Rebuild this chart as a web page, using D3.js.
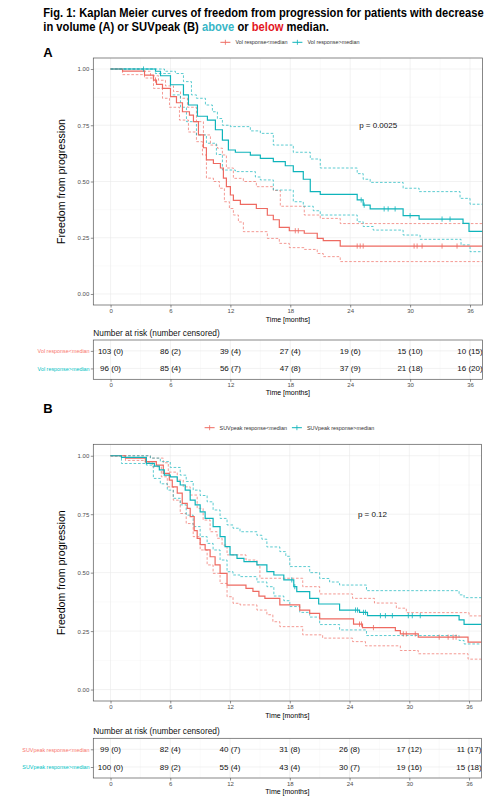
<!DOCTYPE html>
<html><head><meta charset="utf-8">
<script src="https://cdn.jsdelivr.net/npm/d3@7"></script>
<style>body{margin:0;background:#fff}svg{display:block;font-family:"Liberation Sans",Arial,sans-serif}</style>
</head><body><svg id="c" width="498" height="800"></svg>
<script>
// ---------- data ----------
const timeTicks = [0, 6, 12, 18, 24, 30, 36];
const survTicks = [0, 0.25, 0.5, 0.75, 1];

// Panel A: volume response
const volBelow = [[0,1],[1.2,0.991],[3.4,0.973],[4.3,0.951],[4.6,0.932],[5.2,0.914],[6.0,0.877],[6.6,0.85],[7.2,0.81],[7.9,0.795],[8.3,0.766],[8.8,0.707],[9.3,0.65],[9.6,0.596],[10.3,0.58],[11.0,0.56],[11.3,0.515],[11.6,0.477],[12.0,0.44],[12.3,0.416],[13.0,0.398],[14.6,0.38],[15.7,0.35],[16.3,0.33],[16.9,0.296],[17.9,0.281],[19.4,0.27],[20.7,0.247],[21.3,0.237],[23.0,0.213]];
const volBelowHi = [[0,1],[3.4,0.99],[4.0,0.97],[4.8,0.95],[5.5,0.925],[6.3,0.9],[7.0,0.87],[7.7,0.83],[8.6,0.766],[9.3,0.707],[10.0,0.662],[10.7,0.648],[11.2,0.618],[11.6,0.56],[12.3,0.514],[13.3,0.5],[14.6,0.477],[16.3,0.46],[17.0,0.39],[19.4,0.351],[21.0,0.336],[23.0,0.313]];
const volBelowLo = [[0,1],[1.2,0.975],[3.4,0.96],[4.3,0.914],[5.2,0.87],[5.9,0.83],[6.9,0.773],[7.8,0.72],[8.6,0.677],[9.2,0.618],[9.6,0.515],[10.3,0.5],[10.9,0.47],[11.4,0.41],[11.9,0.38],[12.3,0.351],[12.8,0.32],[13.3,0.277],[15.7,0.247],[16.9,0.225],[17.9,0.206],[19.4,0.198],[20.7,0.18],[21.3,0.166],[23.0,0.144]];
const volAbove = [[0,1],[4.5,0.99],[5.0,0.97],[6.0,0.93],[7.3,0.885],[7.8,0.84],[8.7,0.79],[9.7,0.773],[10.5,0.73],[11.2,0.684],[11.8,0.64],[12.5,0.63],[14.0,0.617],[15.0,0.603],[16.3,0.588],[17.5,0.57],[18.3,0.544],[19.3,0.51],[20.0,0.455],[21.0,0.443],[24.7,0.418],[25.3,0.395],[26.0,0.378],[29.3,0.348],[30.9,0.333],[35.3,0.314],[35.9,0.278]];
const volAboveHi = [[0,1],[5.4,0.99],[6.5,0.98],[7.3,0.944],[8.1,0.885],[8.6,0.87],[9.5,0.84],[10.2,0.81],[10.7,0.78],[11.2,0.75],[12.0,0.744],[14.0,0.725],[15.0,0.714],[16.3,0.662],[18.3,0.63],[20.0,0.6],[21.0,0.56],[24.7,0.535],[25.3,0.51],[26.0,0.496],[29.3,0.47],[30.9,0.455],[35.0,0.425],[36.0,0.399]];
const volAboveLo = [[0,1],[4.5,0.98],[6.0,0.885],[7.0,0.83],[7.6,0.766],[8.6,0.707],[9.6,0.67],[10.6,0.62],[11.2,0.551],[12.5,0.544],[14.5,0.52],[15.0,0.507],[16.3,0.462],[18.3,0.41],[19.3,0.39],[20.3,0.37],[21.0,0.351],[24.7,0.321],[25.3,0.3],[26.3,0.284],[29.3,0.262],[31.0,0.243],[35.1,0.218],[36.0,0.188]];
const volBelowCens = [4.5, 18.5, 18.8, 24.7, 25.0, 25.3, 30.4, 30.7, 31.2, 33.2, 34.7];
const volAboveCens = [3.3, 25.1, 25.4, 27.4, 27.8, 28.5, 30.0, 33.2, 34.0];
const volBelowRisk = ["103 (0)","86 (2)","39 (4)","27 (4)","19 (6)","15 (10)","10 (15)"];
const volAboveRisk = ["96 (0)","85 (4)","56 (7)","47 (8)","37 (9)","21 (18)","16 (20)"];
const volLabels = ["Vol response<median","Vol response>median"];
const volP = "p = 0.0025";

// Panel B: SUVpeak response
const suvBelow = [[0,1],[1.5,0.99],[3.5,0.975],[4.6,0.96],[5.3,0.925],[5.9,0.896],[6.2,0.867],[6.7,0.84],[7.2,0.796],[7.7,0.775],[8.0,0.74],[8.4,0.68],[8.7,0.647],[9.0,0.62],[9.5,0.597],[10.0,0.568],[10.5,0.533],[11.0,0.497],[11.7,0.447],[13.6,0.433],[14.3,0.42],[14.9,0.4],[15.5,0.39],[17.0,0.362],[19.0,0.34],[20.0,0.326],[21.0,0.302],[24.4,0.28],[25.3,0.265],[28.6,0.252],[29.1,0.238],[30.9,0.224],[35.9,0.203]];
const suvBelowHi = [[0,1],[4.0,0.99],[5.3,0.97],[5.8,0.93],[6.7,0.896],[7.3,0.867],[8.0,0.832],[8.7,0.775],[9.3,0.725],[10.0,0.675],[10.7,0.647],[11.2,0.618],[11.7,0.576],[13.6,0.554],[14.7,0.533],[15.0,0.476],[19.3,0.44],[21.0,0.409],[24.3,0.39],[26.5,0.37],[28.7,0.348],[29.7,0.329],[36.0,0.315]];
const suvBelowLo = [[0,1],[1.5,0.98],[3.5,0.97],[4.2,0.953],[5.1,0.91],[5.7,0.867],[6.3,0.81],[7.0,0.753],[7.6,0.71],[8.3,0.654],[9.0,0.597],[9.7,0.533],[10.3,0.497],[11.0,0.454],[11.7,0.397],[12.3,0.369],[13.0,0.362],[14.7,0.34],[15.7,0.32],[16.3,0.29],[17.0,0.269],[19.3,0.234],[21.3,0.22],[24.3,0.205],[25.6,0.187],[29.1,0.167],[30.9,0.153],[35.9,0.13]];
const suvAbove = [[0,1],[1.1,0.993],[3.6,0.967],[4.4,0.956],[4.9,0.94],[5.4,0.917],[6.0,0.91],[6.7,0.89],[7.0,0.875],[7.5,0.853],[8.0,0.81],[8.5,0.79],[9.0,0.76],[9.5,0.732],[10.3,0.697],[11.0,0.654],[11.5,0.611],[12.0,0.576],[12.7,0.561],[13.4,0.547],[14.7,0.533],[15.7,0.504],[16.4,0.49],[17.4,0.469],[18.4,0.44],[18.7,0.419],[20.0,0.39],[20.9,0.366],[23.0,0.34],[25.0,0.33],[25.8,0.316],[35.0,0.298],[35.5,0.279]];
const suvAboveHi = [[0,1],[4.0,0.99],[5.0,0.975],[6.0,0.95],[7.0,0.917],[7.6,0.89],[8.3,0.853],[9.0,0.83],[9.7,0.803],[10.3,0.768],[11.0,0.732],[11.7,0.704],[12.3,0.69],[13.0,0.675],[14.7,0.66],[15.2,0.643],[15.7,0.61],[17.0,0.59],[17.6,0.57],[18.0,0.526],[20.0,0.5],[21.0,0.475],[22.0,0.46],[23.0,0.447],[25.7,0.423],[35.0,0.405],[35.5,0.393]];
const suvAboveLo = [[0,1],[1.1,0.967],[3.6,0.96],[4.3,0.903],[5.0,0.88],[5.7,0.853],[6.3,0.818],[7.0,0.79],[7.6,0.746],[8.3,0.697],[9.0,0.654],[9.7,0.625],[10.3,0.597],[11.0,0.554],[11.7,0.504],[12.3,0.49],[13.0,0.483],[14.7,0.46],[15.7,0.44],[16.4,0.4],[17.4,0.38],[18.0,0.355],[19.0,0.33],[20.0,0.31],[21.0,0.278],[23.0,0.255],[25.7,0.231],[35.0,0.21],[35.5,0.195]];
const suvBelowCens = [25.0, 25.2, 26.4, 29.4, 29.7, 30.6, 33.0, 33.9, 34.4, 34.7];
const suvAboveCens = [18.2, 18.5, 24.6, 24.8, 25.4, 25.6, 27.1, 27.6, 28.3, 29.9, 30.3, 31.1];
const suvBelowRisk = ["99 (0)","82 (4)","40 (7)","31 (8)","26 (8)","17 (12)","11 (17)"];
const suvAboveRisk = ["100 (0)","89 (2)","55 (4)","43 (4)","30 (7)","19 (16)","15 (18)"];
const suvLabels = ["SUVpeak response<median","SUVpeak response>median"];
const suvP = "p = 0.12";

// ---------- drawing ----------
const svg = d3.select("#c");
const RED = "#ee6a61", TEAL = "#0fb4bb";
const RED_T = "#f8766d", TEAL_T = "#00bfc4";
const TICKCOL = "#4d4d4d";

// Title (scaled horizontally to match reference width)
const TITLE_FONT = "'Liberation Sans Narrow','Liberation Sans',Arial,sans-serif";
function titleLine(y, targetW, parts) {
  const g = svg.append("g");
  const t = g.append("text").attr("x", 0).attr("y", 0)
    .attr("font-family", TITLE_FONT).attr("font-weight", "bold").attr("font-size", 13.5);
  parts.forEach(([txt, col]) => t.append("tspan").attr("fill", col || "#000").text(txt));
  const w = t.node().getComputedTextLength();
  g.attr("transform", `translate(43.3,${y}) scale(${targetW / w},1)`);
}
titleLine(16.7, 441, [["Fig. 1: Kaplan Meier curves of freedom from progression for patients with decrease"]]);
titleLine(30.6, 286, [["in volume (A) or SUVpeak (B) "], ["above", "#38b6c6"], [" or "], ["below", "#e3161f"], [" median."]]);

function stepAt(arr, t) {
  let v = arr[0][1];
  for (const d of arr) { if (d[0] <= t) v = d[1]; }
  return v;
}

function drawPanel(o) {
  const g = svg.append("g");
  const XMAX = 37.25;
  const x = d3.scaleLinear().domain([-1.73, XMAX]).range([o.x0, o.x1]);
  const y = d3.scaleLinear().domain([-0.049, 1.049]).range([o.y1, o.y0]);

  // panel label
  svg.append("text").attr("x", 43.3).attr("y", o.letterY).attr("font-weight", "bold")
    .attr("font-size", 13).text(o.letter);

  // legend
  const lg = g.append("g");
  const fs = 5.4;
  const widths = o.labels.map(lab => {
    const tmp = lg.append("text").attr("font-size", fs).text(lab);
    const w = tmp.node().getComputedTextLength(); tmp.remove(); return w;
  });
  const total = 15 + widths[0] + 5 + 15 + widths[1];
  let lx = (o.x0 + o.x1) / 2 + 2 - total / 2;
  [[RED, o.labels[0], widths[0]], [TEAL, o.labels[1], widths[1]]].forEach(([c, lab, w]) => {
    lg.append("line").attr("x1", lx).attr("x2", lx + 10).attr("y1", o.legendY).attr("y2", o.legendY)
      .attr("stroke", c).attr("stroke-width", 1);
    lg.append("line").attr("x1", lx + 5).attr("x2", lx + 5).attr("y1", o.legendY - 2.5).attr("y2", o.legendY + 2.5)
      .attr("stroke", c).attr("stroke-width", 0.8);
    lg.append("text").attr("x", lx + 15).attr("y", o.legendY).attr("dy", "0.35em")
      .attr("font-size", fs).attr("fill", "#333").text(lab);
    lx += 15 + w + 5;
  });

  // grid
  const grid = g.append("g");
  grid.selectAll(".mx").data(d3.range(3, 36, 6)).join("line")
    .attr("x1", d => x(d)).attr("x2", d => x(d)).attr("y1", o.y0).attr("y2", o.y1)
    .attr("stroke", "#f2f2f2").attr("stroke-width", 0.4);
  grid.selectAll(".my").data([0.125, 0.375, 0.625, 0.875]).join("line")
    .attr("y1", d => y(d)).attr("y2", d => y(d)).attr("x1", o.x0).attr("x2", o.x1)
    .attr("stroke", "#f2f2f2").attr("stroke-width", 0.4);
  grid.selectAll(".Mx").data(timeTicks).join("line")
    .attr("x1", d => x(d)).attr("x2", d => x(d)).attr("y1", o.y0).attr("y2", o.y1)
    .attr("stroke", "#e9e9e9").attr("stroke-width", 0.6);
  grid.selectAll(".My").data(survTicks).join("line")
    .attr("y1", d => y(d)).attr("y2", d => y(d)).attr("x1", o.x0).attr("x2", o.x1)
    .attr("stroke", "#e9e9e9").attr("stroke-width", 0.6);

  // clip
  const cid = "clip" + o.letter;
  svg.append("clipPath").attr("id", cid).append("rect")
    .attr("x", o.x0).attr("y", o.y0).attr("width", o.x1 - o.x0).attr("height", o.y1 - o.y0);
  const cg = g.append("g").attr("clip-path", `url(#${cid})`);
  const line = d3.line().x(d => x(d[0])).y(d => y(d[1])).curve(d3.curveStepAfter);
  const ext = arr => arr.concat([[XMAX, arr[arr.length - 1][1]]]);

  const groups = [
    { s: o.below, hi: o.belowHi, lo: o.belowLo, cens: o.belowCens, c: RED },
    { s: o.above, hi: o.aboveHi, lo: o.aboveLo, cens: o.aboveCens, c: TEAL }
  ];
  groups.forEach(gr => {
    [gr.hi, gr.lo].forEach(ci => {
      cg.append("path").attr("d", line(ext(ci))).attr("fill", "none")
        .attr("stroke", gr.c).attr("stroke-width", 0.75).attr("stroke-dasharray", "2.6,1.8")
        .attr("opacity", 0.9);
    });
  });
  groups.forEach(gr => {
    cg.append("path").attr("d", line(ext(gr.s))).attr("fill", "none")
      .attr("stroke", gr.c).attr("stroke-width", 1.2);
    cg.selectAll(null).data(gr.cens).join("line")
      .attr("x1", d => x(d)).attr("x2", d => x(d))
      .attr("y1", d => y(stepAt(gr.s, d)) - 2.6).attr("y2", d => y(stepAt(gr.s, d)) + 2.6)
      .attr("stroke", gr.c).attr("stroke-width", 0.8);
  });

  // p value
  g.append("text").attr("x", x(o.pT)).attr("y", y(o.pS)).attr("dy", "0.35em")
    .attr("text-anchor", "middle").attr("font-size", 8).attr("fill", "#111").text(o.p);

  // border
  g.append("rect").attr("x", o.x0).attr("y", o.y0).attr("width", o.x1 - o.x0).attr("height", o.y1 - o.y0)
    .attr("fill", "none").attr("stroke", "#555").attr("stroke-width", 0.7);

  // axes
  const ax = g.append("g").attr("transform", `translate(0,${o.y1})`)
    .call(d3.axisBottom(x).tickValues(timeTicks).tickSize(2.5).tickPadding(1.2));
  const ay = g.append("g").attr("transform", `translate(${o.x0},0)`)
    .call(d3.axisLeft(y).tickValues(survTicks).tickFormat(d3.format(".2f")).tickSize(2.5).tickPadding(1.5));
  [ax, ay].forEach(a => {
    a.select(".domain").remove();
    a.selectAll(".tick line").attr("stroke", "#444").attr("stroke-width", 0.6);
    a.selectAll(".tick text").attr("font-size", 6).attr("fill", TICKCOL)
      .attr("font-family", "'Liberation Sans',Arial,sans-serif");
  });
  g.append("text").attr("x", (o.x0 + o.x1) / 2).attr("y", o.y1 + 16.5)
    .attr("text-anchor", "middle").attr("font-size", 7).text("Time [months]");
  g.append("text").attr("transform", `translate(61.5,${(o.y0 + o.y1) / 2}) rotate(-90)`)
    .attr("text-anchor", "middle").attr("dy", "0.35em").attr("font-size", 10.6)
    .text("Freedom from progression");

  // risk table
  const T = o.table;
  g.append("text").attr("x", o.x0).attr("y", T.y0 - 4.5).attr("font-size", 8.3).attr("fill", "#111")
    .text("Number at risk (number censored)");
  const ry = d3.scalePoint().domain([0, 1]).range([T.y0, T.y1]).padding(0.62);
  const tg = g.append("g");
  tg.selectAll(".tmx").data(d3.range(3, 36, 6)).join("line")
    .attr("x1", d => x(d)).attr("x2", d => x(d)).attr("y1", T.y0).attr("y2", T.y1)
    .attr("stroke", "#f2f2f2").attr("stroke-width", 0.4);
  tg.selectAll(".tMx").data(timeTicks).join("line")
    .attr("x1", d => x(d)).attr("x2", d => x(d)).attr("y1", T.y0).attr("y2", T.y1)
    .attr("stroke", "#e9e9e9").attr("stroke-width", 0.6);
  tg.selectAll(".tMy").data([0, 1]).join("line")
    .attr("y1", d => ry(d)).attr("y2", d => ry(d)).attr("x1", o.x0).attr("x2", o.x1)
    .attr("stroke", "#e9e9e9").attr("stroke-width", 0.6);
  const tcid = "tclip" + o.letter;
  svg.append("clipPath").attr("id", tcid).append("rect")
    .attr("x", o.x0).attr("y", T.y0).attr("width", o.x1 - o.x0).attr("height", T.y1 - T.y0);
  const tt = tg.append("g").attr("clip-path", `url(#${tcid})`);
  [o.belowRisk, o.aboveRisk].forEach((row, ri) => {
    tt.selectAll(null).data(row).join("text")
      .attr("x", (d, i) => x(timeTicks[i])).attr("y", ry(ri)).attr("dy", "0.35em")
      .attr("text-anchor", "middle").attr("font-size", 8).attr("fill", "#111").text(d => d);
  });
  tg.append("rect").attr("x", o.x0).attr("y", T.y0).attr("width", o.x1 - o.x0).attr("height", T.y1 - T.y0)
    .attr("fill", "none").attr("stroke", "#555").attr("stroke-width", 0.7);
  const tax = tg.append("g").attr("transform", `translate(0,${T.y1})`)
    .call(d3.axisBottom(x).tickValues(timeTicks).tickSize(2.5).tickPadding(1.2));
  const tay = tg.append("g").attr("transform", `translate(${o.x0},0)`)
    .call(d3.axisLeft(ry).tickFormat((d, i) => o.labels[i]).tickSize(2.5).tickPadding(1.2));
  [tax, tay].forEach(a => {
    a.select(".domain").remove();
    a.selectAll(".tick line").attr("stroke", "#444").attr("stroke-width", 0.6);
    a.selectAll(".tick text").attr("font-size", 6).attr("fill", TICKCOL)
      .attr("font-family", "'Liberation Sans',Arial,sans-serif");
  });
  tay.selectAll(".tick text").attr("font-size", 5.4).attr("fill", (d, i) => i === 0 ? RED_T : TEAL_T);
  tg.append("text").attr("x", (o.x0 + o.x1) / 2).attr("y", T.y1 + 15.8)
    .attr("text-anchor", "middle").attr("font-size", 7).text("Time [months]");
}

drawPanel({
  letter: "A", letterY: 56.7, legendY: 42.3,
  x0: 93.3, x1: 482.5, y0: 58, y1: 305,
  below: volBelow, belowHi: volBelowHi, belowLo: volBelowLo, belowCens: volBelowCens,
  above: volAbove, aboveHi: volAboveHi, aboveLo: volAboveLo, aboveCens: volAboveCens,
  labels: volLabels, p: volP, pT: 26.8, pS: 0.75,
  belowRisk: volBelowRisk, aboveRisk: volAboveRisk,
  table: { y0: 340, y1: 379.3 }
});
drawPanel({
  letter: "B", letterY: 413.3, legendY: 427.7,
  x0: 93.3, x1: 481.5, y0: 444.3, y1: 701,
  below: suvBelow, belowHi: suvBelowHi, belowLo: suvBelowLo, belowCens: suvBelowCens,
  above: suvAbove, aboveHi: suvAboveHi, aboveLo: suvAboveLo, aboveCens: suvAboveCens,
  labels: suvLabels, p: suvP, pT: 26.3, pS: 0.748,
  belowRisk: suvBelowRisk, aboveRisk: suvAboveRisk,
  table: { y0: 738.3, y1: 778 }
});
</script></body></html>
